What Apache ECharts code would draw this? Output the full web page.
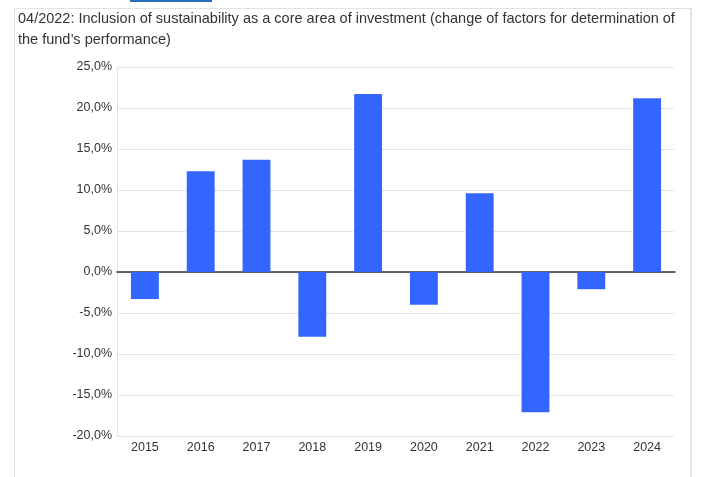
<!DOCTYPE html>
<html><head><meta charset="utf-8">
<script src="https://cdn.jsdelivr.net/npm/echarts@6/dist/echarts.min.js"></script>
<style>
html,body{margin:0;padding:0;background:#fff;}
#wrap{position:absolute;left:14px;top:8px;width:678px;height:469px;border-left:1px solid #e2e2e2;border-top:1px solid #e2e2e2;border-right:2px solid #e2e2e2;box-sizing:border-box;}
#title{position:absolute;left:18px;top:8px;width:668px;font-family:"Liberation Sans",Arial,sans-serif;font-size:14.5px;line-height:21px;color:#333;}
#topbar{position:absolute;left:130px;top:0;width:82px;height:2px;background:#2a6ebb;}
#chart{position:absolute;left:0;top:0;width:703px;height:477px;}
</style></head>
<body>
<div id="topbar"></div>
<div id="wrap"></div>
<div id="chart"></div>
<div id="title">04/2022: Inclusion of sustainability as a core area of investment (change of factors for determination of the fund’s performance)</div>
<script>
var years = ['2015','2016','2017','2018','2019','2020','2021','2022','2023','2024'];
var returns = [-3.3, 12.3, 13.7, -7.9, 21.7, -4.0, 9.6, -17.1, -2.1, 21.2];
var chart = echarts.init(document.getElementById('chart'), null, {renderer:'canvas'});
chart.setOption({
  animation:false,
  grid:{left:117, right:28, top:67, bottom:41, containLabel:false},
  xAxis:{
    type:'category', data:years,
    axisLine:{show:true, onZero:true, lineStyle:{color:'#333', width:1.5}},
    axisTick:{show:false},
    axisLabel:{show:true, color:'#333', fontSize:12.5, fontFamily:'Liberation Sans, Arial, sans-serif', margin:5},
    position:'bottom'
  },
  yAxis:{
    type:'value', min:-20, max:25, interval:5,
    axisLine:{show:true, lineStyle:{color:'#ddd', type:'dotted'}},
    axisTick:{show:false},
    splitLine:{show:true, lineStyle:{color:'#ccc', type:'dotted'}},
    axisLabel:{color:'#333', fontSize:12.5, fontFamily:'Liberation Sans, Arial, sans-serif', margin:5,
      formatter:function(v){return v.toFixed(1).replace('.',',')+'%';}}
  },
  series:[{
    type:'bar', data:returns, barWidth:'50%',
    itemStyle:{color:'#3366ff'}
  }]
});
</script>
</body></html>
